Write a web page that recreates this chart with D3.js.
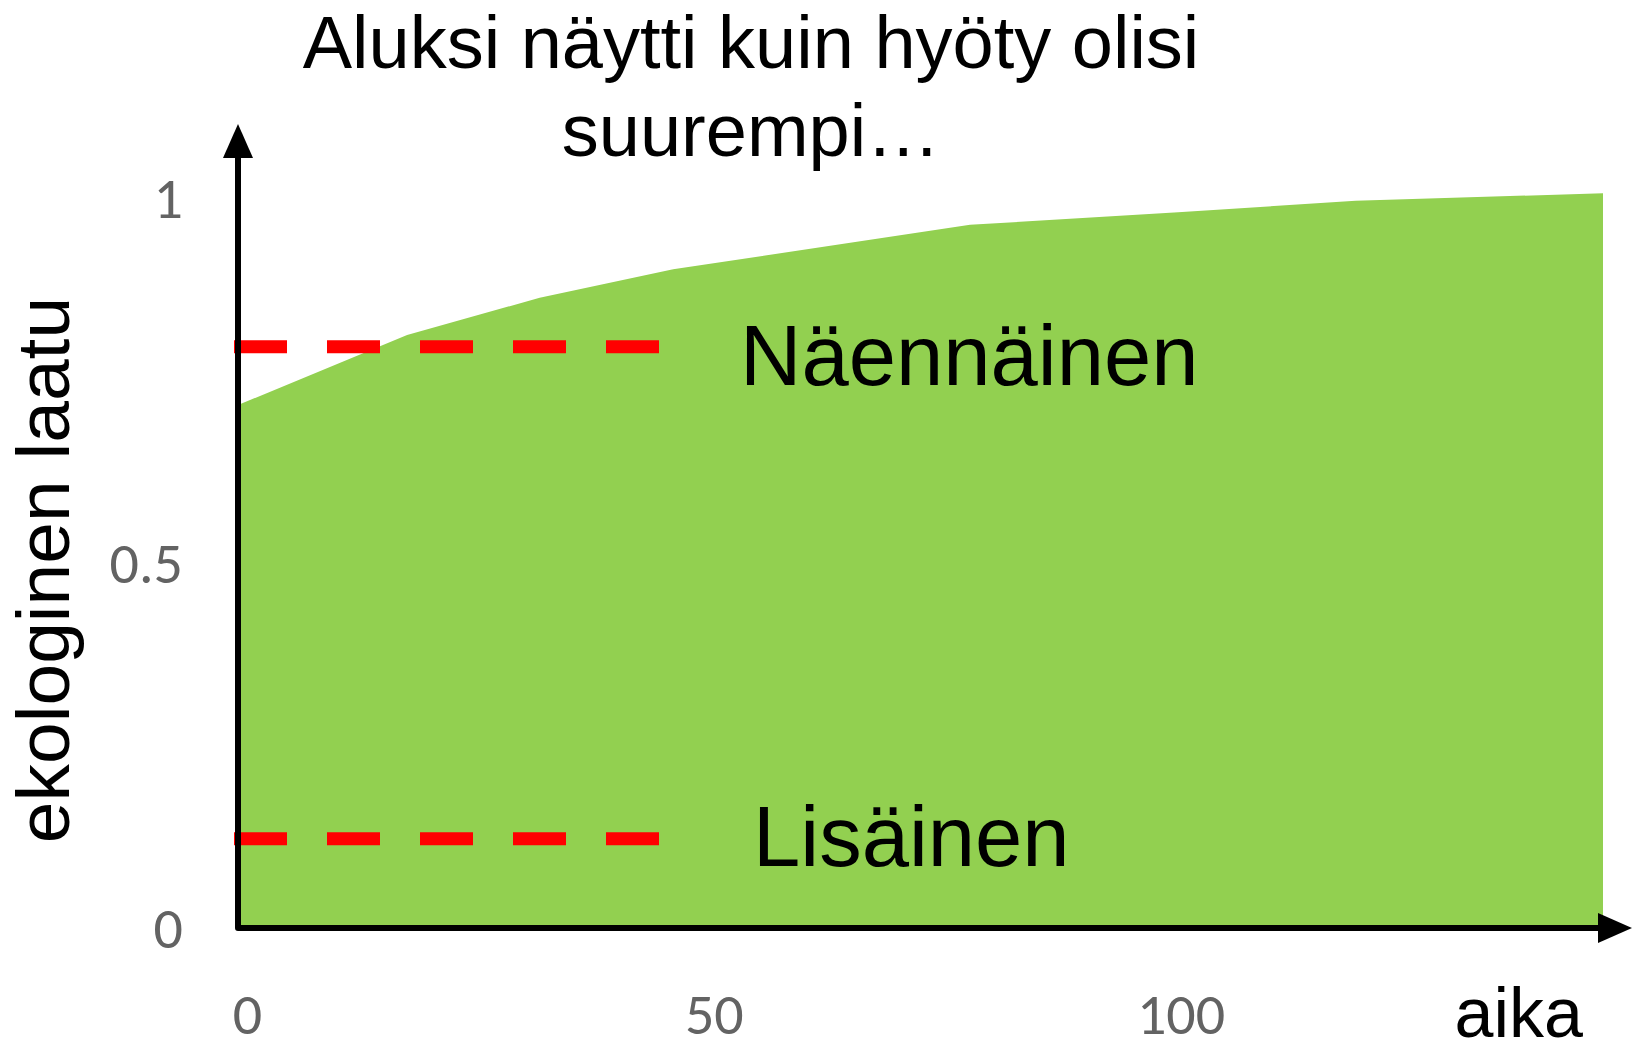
<!DOCTYPE html>
<html>
<head>
<meta charset="utf-8">
<script src="https://cdn.jsdelivr.net/npm/d3@7"></script>
<style>
  html, body { margin: 0; padding: 0; background: #fff; }
  svg { display: block; }
  text { font-family: "Liberation Sans", Arial, sans-serif; }
  .tick-label { font-family: Carlito, "Open Sans", sans-serif; fill: #636363; }
</style>
</head>
<body>
<svg id="chart" width="1635" height="1053"></svg>
<script>
// ekologinen laatu ajan funktiona (luettu kuvasta)
const aika = [0, 17.9, 32.1, 46.4, 78.2, 100.5, 119.5, 146];
const laatu = [0.715, 0.811, 0.862, 0.901, 0.962, 0.979, 0.995, 1.005];

// vaakaviivat
const viivaNimet = ['Näennäinen', 'Lisäinen'];
const viivaArvot = [0.795, 0.121];

const xTicks = [0, 50, 100];
const yTicks = [0, 0.5, 1];

const titleLines = ['Aluksi näytti kuin hyöty olisi', 'suurempi…'];

// layout
const svg = d3.select('#chart');
const x = d3.scaleLinear().domain([0, 146]).range([240, 1603]);
const y = d3.scaleLinear().domain([0, 1]).range([927, 197]);
const axisX0 = 238;      // y-axis line position
const axisY0 = 928;      // x-axis line position
const labelPos = [{ x: 740, dy: 38 }, { x: 753, dy: 27 }];

const data = aika.map((t, i) => ({ t: t, v: laatu[i] }));

// green area
const area = d3.area()
    .x((d, i) => i === 0 ? axisX0 : x(d.t))
    .y0(y(0))
    .y1(d => y(d.v));
svg.append('path')
    .datum(data)
    .attr('d', area)
    .style('fill', '#92d050');

// dashed red lines
svg.selectAll('.ref-line')
    .data(viivaArvot)
    .join('line')
    .classed('ref-line', true)
    .attr('x1', 234)
    .attr('x2', 660)
    .attr('y1', d => y(d))
    .attr('y2', d => y(d))
    .style('stroke', '#ff0000')
    .style('stroke-width', 13)
    .style('stroke-dasharray', '53 40');

svg.selectAll('.ref-label')
    .data(viivaNimet)
    .join('text')
    .classed('ref-label', true)
    .attr('x', (d, i) => labelPos[i].x)
    .attr('y', (d, i) => y(viivaArvot[i]) + labelPos[i].dy)
    .style('font-size', '85px')
    .text(d => d);

// axes lines with arrows
svg.append('path')
    .attr('d', `M${axisX0},150 L${axisX0},${axisY0} L1605,${axisY0}`)
    .style('fill', 'none')
    .style('stroke', '#000')
    .style('stroke-width', 6)
    .style('stroke-linejoin', 'round');
svg.append('path')
    .attr('d', `M${axisX0},124 L${axisX0 - 15},158 L${axisX0 + 15},158 Z`)
    .style('fill', '#000');
svg.append('path')
    .attr('d', `M1632,${axisY0} L1598,${axisY0 - 15} L1598,${axisY0 + 15} Z`)
    .style('fill', '#000');

// tick labels through d3 axes
const yAxisG = svg.append('g')
    .attr('transform', `translate(${axisX0},0)`)
    .call(d3.axisLeft(y).tickValues(yTicks).tickSize(0).tickPadding(55).tickFormat(d3.format('')));
yAxisG.select('.domain').remove();
yAxisG.selectAll('text')
    .attr('class', 'tick-label')
    .attr('dy', '0.36em')
    .style('font-size', '58px');

const xAxisG = svg.append('g')
    .attr('transform', `translate(7,${y(0)})`)
    .call(d3.axisBottom(x).tickValues(xTicks).tickSize(0).tickFormat(d3.format('')));
xAxisG.select('.domain').remove();
xAxisG.selectAll('text')
    .attr('class', 'tick-label')
    .attr('y', 86)
    .attr('dy', '0.36em')
    .style('font-size', '58px');

// title
svg.selectAll('.title')
    .data(titleLines)
    .join('text')
    .classed('title', true)
    .attr('x', 751)
    .attr('y', (d, i) => 68 + i * 88)
    .attr('text-anchor', 'middle')
    .style('font-size', '74px')
    .text(d => d);

// axis titles
svg.append('text')
    .attr('transform', 'translate(69,570) rotate(-90)')
    .attr('text-anchor', 'middle')
    .style('font-size', '75px')
    .text('ekologinen laatu');

svg.append('text')
    .attr('x', 1583)
    .attr('y', 1037)
    .attr('text-anchor', 'end')
    .style('font-size', '70px')
    .text('aika');
</script>
</body>
</html>
